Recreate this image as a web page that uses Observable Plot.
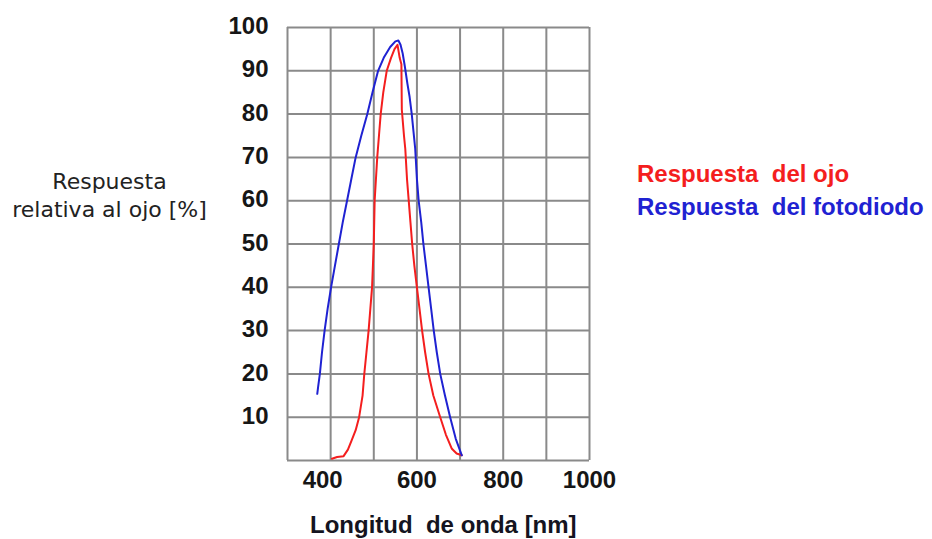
<!DOCTYPE html>
<html>
<head>
<meta charset="utf-8">
<script src="https://cdn.jsdelivr.net/npm/d3@7"></script>
<script src="https://cdn.jsdelivr.net/npm/@observablehq/plot@0.6"></script>
<style>
  html, body { margin: 0; padding: 0; background: #fff; }
  #wrap { position: relative; width: 932px; height: 539px; overflow: hidden; }
  #chart { position: absolute; left: 0; top: 0; }
  .txt { position: absolute; white-space: pre; }
  #ylab { left: 0; top: 168px; width: 219px; text-align: center; font-family: "DejaVu Sans", sans-serif; font-size: 22px; line-height: 28px; color: #222; }
  #legend { left: 637px; top: 157px; font-family: "Liberation Sans", Arial, sans-serif; font-weight: bold; font-size: 24px; line-height: 33px; }
  #xlab { left: 310px; top: 511px; font-family: "Liberation Sans", Arial, sans-serif; font-weight: bold; font-size: 24px; line-height: 28px; color: #141420; }
</style>
</head>
<body>
<div id="wrap">
  <div id="chart"></div>
  <div id="ylab" class="txt">Respuesta
relativa al ojo [%]</div>
  <div id="legend" class="txt"><span id="leg0"></span>
<span id="leg1"></span></div>
  <div id="xlab" class="txt">Longitud  de onda [nm]</div>
</div>
<script>
// Series names
const seriesNames = ["Respuesta  del ojo", "Respuesta  del fotodiodo"];
const seriesColors = ["#f41e1e", "#1f22d2"];

// Eye response: wavelength (nm) and relative response (%)
const eyeNm  = [403, 415, 430, 440, 448, 458, 466, 470, 474, 478, 483, 488, 492, 496, 498, 500, 501, 502, 505, 508, 512, 516, 522, 530, 540, 548, 555, 560, 564, 565, 570, 573, 577, 581, 585, 589, 594, 600, 606, 612, 619, 627, 638, 654, 667, 681, 692, 704];
const eyeVal = [0.4, 0.8, 1, 2.5, 4.5, 7, 10, 12.5, 15, 20, 25, 30, 35, 40, 45, 50, 55, 60, 65, 70, 75, 80, 85, 90, 93, 95, 96, 93, 91.5, 81, 75, 72, 65, 60, 55, 50, 45, 40, 35, 30, 25, 20, 15, 10, 6, 2.7, 1.6, 1.2];

// Photodiode response
const diodeNm  = [369, 371, 375, 380, 386, 393, 401, 410, 419, 428, 438, 448, 458, 471, 485, 497, 510, 523, 538, 550, 557, 562, 567, 572, 578, 583, 588, 592, 596, 600, 604, 610, 615, 621, 627, 633, 639, 646, 654, 665, 677, 690, 704];
const diodeVal = [15.4, 17, 20, 25, 30, 35, 40, 45, 50, 55, 60, 65, 70, 75, 80, 85, 90, 93, 95.5, 96.8, 97, 96, 94, 91, 87, 84, 80, 76, 72, 65, 60, 55, 50, 45, 40, 35, 30, 25, 20, 15, 10, 5, 1.2];

// Grid and ticks
const xGrid = [300, 400, 500, 600, 700, 800, 900, 1000];
const yGrid = [0, 10, 20, 30, 40, 50, 60, 70, 80, 90, 100];
const xTicksFirst = [400];
const xTicksRest = [600, 800, 1000];
const yTicks = [10, 20, 30, 40, 50, 60, 70, 80, 90, 100];

const eye = eyeNm.map((x, i) => ({x, y: eyeVal[i]}));
const diode = diodeNm.map((x, i) => ({x, y: diodeVal[i]}));

const tickStyle = {fontSize: 24, fontWeight: "bold", fontFamily: "Liberation Sans, Arial, sans-serif", fill: "#161616", tickFormat: d => String(d)};

const chart = Plot.plot({
  width: 932,
  height: 539,
  marginLeft: 287,
  marginRight: 343,
  marginTop: 27,
  marginBottom: 79,
  x: {domain: [300, 1000]},
  y: {domain: [0, 100]},
  style: {background: "transparent", overflow: "visible"},
  marks: [
    Plot.ruleX(xGrid, {x: d => d, stroke: "#8a8a8a", strokeWidth: 2, strokeOpacity: 1}),
    Plot.ruleY(yGrid, {y: d => d, stroke: "#8a8a8a", strokeWidth: 2, strokeOpacity: 1}),
    Plot.line(eye, {x: "x", y: "y", stroke: seriesColors[0], strokeWidth: 2}),
    Plot.line(diode, {x: "x", y: "y", stroke: seriesColors[1], strokeWidth: 2}),
    Plot.axisX(xTicksFirst, {anchor: "bottom", tickSize: 0, tickPadding: 10, dx: -8, label: null, ...tickStyle}),
    Plot.axisX(xTicksRest, {anchor: "bottom", tickSize: 0, tickPadding: 10, label: null, ...tickStyle}),
    Plot.axisY(yTicks, {anchor: "left", tickSize: 0, tickPadding: 19, dy: -1, label: null, ...tickStyle})
  ]
});
document.getElementById("chart").appendChild(chart);

const l0 = document.getElementById("leg0");
l0.textContent = seriesNames[0];
l0.style.color = seriesColors[0];
const l1 = document.getElementById("leg1");
l1.textContent = seriesNames[1];
l1.style.color = seriesColors[1];
</script>
</body>
</html>
